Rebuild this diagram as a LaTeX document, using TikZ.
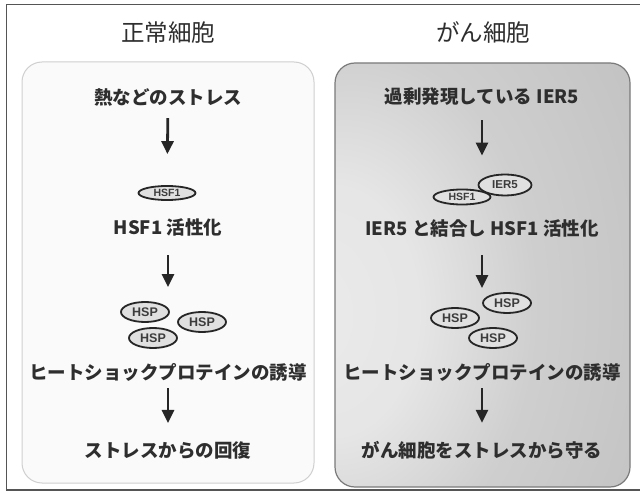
\documentclass[tikz,border=0pt]{standalone}
\usepackage{fontspec}
\setmainfont{Noto Sans CJK JP}
\newfontfamily\molfont{Liberation Sans}
\usetikzlibrary{shapes.geometric,arrows.meta}
\definecolor{ink}{HTML}{2E2E2E}
\definecolor{framec}{HTML}{555555}
\definecolor{lightpanel}{HTML}{FAFAFA}
\definecolor{lightedge}{HTML}{CFCFCF}
\definecolor{darkedge}{HTML}{7A7A7A}
\definecolor{molfill}{HTML}{E0E0E0}
\definecolor{moltext}{HTML}{3C3C3C}
% light streak on the left, darkening towards the right
\pgfdeclareradialshading{cancershade}{\pgfpoint{-30bp}{-5bp}}{%
  color(0bp)=(black!8); color(15bp)=(black!10); color(30bp)=(black!19);
  color(55bp)=(black!25); color(80bp)=(black!36); color(100bp)=(black!46)}
\tikzset{
  title/.style={font=\fontsize{23.5}{26}\selectfont, text=ink, inner sep=0pt},
  label/.style={font=\fontsize{18.5}{20}\selectfont\bfseries, text=ink, inner sep=0pt},
  mol/.style={ellipse, draw=black!85, line width=1.8pt, fill=molfill, inner sep=0pt,
    text=moltext, font=\molfont\bfseries\fontsize{10.5}{11}\selectfont},
  hsp/.style={mol, minimum width=48pt, minimum height=20pt,
    font=\molfont\bfseries\fontsize{12.5}{13}\selectfont},
  flow/.style={draw=black!85, line width=2.8pt,
    -{Triangle[length=13pt,width=12pt]}},
}
\begin{document}
\begin{tikzpicture}[x=1pt,y=-1pt]
\useasboundingbox (0,0) rectangle (640,494);
\fill[white] (0,0) rectangle (640,494);

% outer frame
\draw[framec, line width=1.5pt] (641,4.5) -- (6.5,4.5) -- (6.5,490) -- (641,490);

% panels
\draw[lightedge, fill=lightpanel, line width=1pt, rounded corners=20pt]
  (22,62) rectangle (314,483);
\shade[shading=cancershade, rounded corners=20pt] (335,63) rectangle (630,487);
\draw[darkedge, line width=1.2pt, rounded corners=20pt] (335,63) rectangle (630,487);

% titles
\node[title] (titleN) at (168,33) {正常細胞};
\node[title] (titleC) at (483,33) {がん細胞};

% normal cell pathway
\node[label] (n1) at (168,97) {熱などのストレス};
\node[mol, minimum width=57pt, minimum height=14pt] (nhsf) at (167,193) {HSF1};
\node[label] (n2) at (168,227) {HSF1 活性化};
\node[hsp] (nhspA) at (145,312) {HSP};
\node[hsp] (nhspB) at (202,322) {HSP};
\node[hsp] (nhspC) at (153,338) {HSP};
\node[label] (n3) at (168,372) {ヒートショックプロテインの誘導};
\node[label] (n4) at (168,450) {ストレスからの回復};

\draw[flow, shorten <=12pt, shorten >=31pt] (n1.south) -- (nhsf.north);
\draw[flow, shorten <=19pt, shorten >=14pt] (n2.south) -- (n2.south |- nhspA.north);
\draw[flow, shorten <=7pt, shorten >=18pt] (n3.south) -- (n4.north);

% cancer cell pathway
\node[label] (c1) at (482,97) {過剰発現している IER5};
\node[mol, minimum width=57pt, minimum height=15pt] (chsf) at (462,197) {HSF1};
\node[mol, minimum width=53pt, minimum height=21pt,
  font=\molfont\bfseries\fontsize{11.5}{12}\selectfont] (cier) at (505,185) {IER5};
\node[label] (c2) at (482,228) {IER5 と結合し HSF1 活性化};
\node[hsp] (chspA) at (507,303) {HSP};
\node[hsp] (chspB) at (455,318) {HSP};
\node[hsp] (chspC) at (493,338) {HSP};
\node[label] (c3) at (482,372) {ヒートショックプロテインの誘導};
\node[label] (c4) at (482,450) {がん細胞をストレスから守る};

\draw[flow, shorten <=14pt, shorten >=18pt] (c1.south) -- (c1.south |- cier.north);
\draw[flow, shorten <=18pt, shorten >=4pt] (c2.south) -- (c2.south |- chspA.north);
\draw[flow, shorten <=7pt, shorten >=18pt] (c3.south) -- (c4.north);
\end{tikzpicture}
\end{document}
